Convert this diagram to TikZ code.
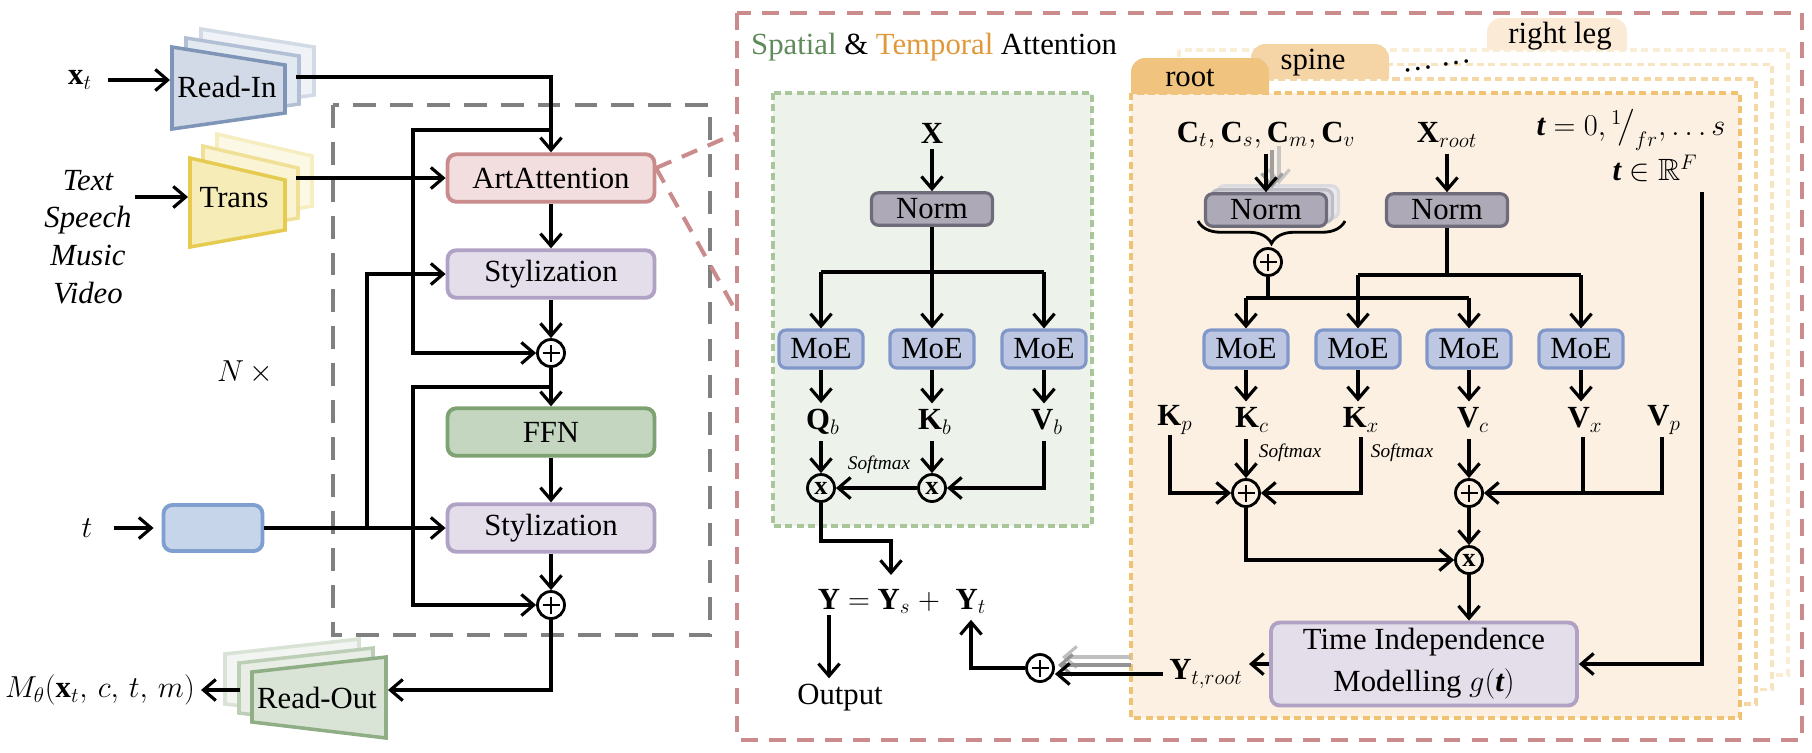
\documentclass[tikz,border=0pt]{standalone}
\usepackage{amsmath,amssymb}
\usepackage{fontspec}
\setmainfont{Liberation Serif}
\usepackage{tikz}
\usetikzlibrary{calc}
\usetikzlibrary{positioning}
\usetikzlibrary{arrows.meta}
\usetikzlibrary{decorations.pathreplacing}

\definecolor{artfill}{HTML}{F2DEDE}
\definecolor{artline}{HTML}{C98B8B}
\definecolor{styfill}{HTML}{E4DEEA}
\definecolor{styline}{HTML}{B0A2C4}
\definecolor{ffnfill}{HTML}{C4D5C0}
\definecolor{ffnline}{HTML}{7EA271}
\definecolor{tfill}{HTML}{C6D5EA}
\definecolor{tline}{HTML}{7E9FD0}
\definecolor{readinfill}{HTML}{D1DAE6}
\definecolor{readinline}{HTML}{7F95B8}
\definecolor{transfill}{HTML}{F6ECB8}
\definecolor{transline}{HTML}{E5CB4F}
\definecolor{readoutfill}{HTML}{D9E3D6}
\definecolor{readoutline}{HTML}{90AE86}
\definecolor{greenfill}{HTML}{EDF2EA}
\definecolor{greenline}{HTML}{A9C59A}
\definecolor{normfill}{HTML}{ADA9B6}
\definecolor{normline}{HTML}{6E6B7B}
\definecolor{moefill}{HTML}{BDC7E1}
\definecolor{moeline}{HTML}{8297C9}
\definecolor{rootfill}{HTML}{FBF0E1}
\definecolor{rootline}{HTML}{F0C274}
\definecolor{roottab}{HTML}{F0C37F}
\definecolor{spinetab}{HTML}{F5D5A6}
\definecolor{legtab}{HTML}{FBEBD6}
\definecolor{spatialc}{HTML}{5F8A5A}
\definecolor{temporalc}{HTML}{E0993A}

\newcommand{\tb}{\text{\bfseries\itshape t}}

\begin{document}
\begin{tikzpicture}[x=0.02cm, y=-0.02cm, font=\rmfamily\fontsize{17.5}{21}\selectfont]

	\useasboundingbox (0,0) rectangle (1812,752);

	\tikzset{
		flow/.style={-{Straight Barb[length=7pt,width=12pt]}, line width=1.8pt},
		wire/.style={line width=1.8pt},
		blk/.style={draw, rounded corners=5pt, line width=2.2pt, inner sep=0pt,
			minimum width=4.14cm, minimum height=0.95cm},
		normbox/.style={draw=normline, fill=normfill, rounded corners=4pt, line width=1.8pt,
			minimum width=2.42cm, minimum height=0.65cm, inner sep=0pt},
		moebox/.style={draw=moeline, fill=moefill, rounded corners=4pt, line width=1.8pt,
			minimum width=1.68cm, minimum height=0.76cm, inner sep=0pt},
		addop/.style={circle, draw, line width=1.6pt, minimum size=0.54cm, inner sep=0pt,
			path picture={\draw[line width=1.6pt]
				([xshift=-0.17cm]path picture bounding box.center) -- ([xshift=0.17cm]path picture bounding box.center)
				([yshift=-0.17cm]path picture bounding box.center) -- ([yshift=0.17cm]path picture bounding box.center);}},
		mulop/.style={circle, draw, line width=1.6pt, minimum size=0.54cm, inner sep=0pt,
			font=\fontsize{15}{15}\selectfont\bfseries},
		softmax/.style={font=\fontsize{11}{12}\selectfont\itshape},
		ghost/.style={-{Straight Barb[length=7pt,width=12pt]}, line width=1.8pt}
	}

	% --- left: transformer block ---
	\draw[gray, line width=2.3pt, dash pattern=on 13pt off 8pt] (333,105) rectangle (710,635);

	% Read-In / Trans / Read-Out stacks
	\foreach \dx/\dy/\pc in {29/-18/35, 14/-9/60, 0/0/100}
		\filldraw[line width=2pt, draw=readinline!\pc, fill=readinfill!\pc]
			(172+\dx,47+\dy) -- (285+\dx,65+\dy) -- (285+\dx,113+\dy) -- (172+\dx,129+\dy) -- cycle;
	\foreach \dx/\dy/\pc in {27/-24/35, 13/-12/60, 0/0/100}
		\filldraw[line width=2pt, draw=transline!\pc, fill=transfill!\pc]
			(190+\dx,158+\dy) -- (285+\dx,180+\dy) -- (285+\dx,230+\dy) -- (190+\dx,247+\dy) -- cycle;
	\foreach \dx/\dy/\pc in {-27/-18/35, -13/-9/60, 0/0/100}
		\filldraw[line width=2pt, draw=readoutline!\pc, fill=readoutfill!\pc]
			(252+\dx,672+\dy) -- (386+\dx,657+\dy) -- (386+\dx,738+\dy) -- (252+\dx,722+\dy) -- cycle;

	\node (readin) at (227,87) {Read-In};
	\node (trans) at (234,198) {Trans};
	\node (readout) at (317,698) {Read-Out};
	\coordinate (rinin) at (170,80);
	\coordinate (rinout) at (296,77);
	\coordinate (trin) at (188,197);
	\coordinate (trout) at (296,178);
	\coordinate (roin) at (388,690);
	\coordinate (roout) at (240,690);

	\node (xt) at (80,80) {$\mathbf{x}_t$};
	\node[align=center, font=\rmfamily\fontsize{17.5}{21.5}\selectfont\itshape] (modal) at (88,237) {Text\\Speech\\Music\\Video};
	\node (tlab) at (87,528) {$t$};
	\node (nx) at (245,372) {$N\,\times$};
	\node (mth) at (100,690) {$M_\theta(\mathbf{x}_t,\, c,\, t,\, m)$};

	\node[blk, draw=artline, fill=artfill] (art) at (551,178) {ArtAttention};
	\node[blk, draw=styline, fill=styfill] (sty1) at (551,274) {Stylization};
	\node[addop] (add1) at (551,353) {};
	\node[blk, draw=ffnline, fill=ffnfill] (ffn) at (551,432) {FFN};
	\node[blk, draw=styline, fill=styfill] (sty2) at (551,528) {Stylization};
	\node[addop] (add2) at (551,605) {};
	\node[blk, draw=tline, fill=tfill, minimum width=1.98cm, minimum height=0.92cm] (tbox) at (213,528) {};

	\draw[flow] ([xshift=0.2cm]xt.east) -- (rinin);
	\draw[flow] (135,197) -- (trin);
	\draw[flow] ([xshift=0.3cm]tlab.east) -- ([xshift=-0.16cm]tbox.west);
	\draw[flow] (rinout) -| (art.north);
	\draw[flow] (trout) -- (art.west);
	\draw[flow] (art) -- (sty1);
	\draw[flow] (sty1) -- (add1);
	\draw[flow] (add1) -- (ffn);
	\draw[flow] (ffn) -- (sty2);
	\draw[flow] (sty2) -- (add2);
	% residuals
	\draw[flow] (551,130) -- (413,130) |- (add1.west);
	\draw[flow] (551,387) -- (413,387) |- (add2.west);
	% timestep
	\draw[flow] (tbox.east) -- (sty2.west);
	\draw[flow] (367,528) |- (sty1.west);
	\draw[flow] (add2.south) |- (roin);
	\draw[flow] (roout) -- (mth.east);

	% zoom lines
	\coordinate (zoomfrom) at (656,168);
	\draw[artline, line width=2.3pt, dash pattern=on 9.5pt off 6.5pt] (zoomfrom) -- (737,133);
	\draw[artline, line width=2.3pt, dash pattern=on 9.5pt off 6.5pt] (zoomfrom) -- (737,313);

	% --- right: spatial & temporal attention ---
	\draw[artline, line width=2.3pt, dash pattern=on 9.5pt off 6.5pt] (737,13) rectangle (1802,740);
	\node[anchor=west] (title) at (745,47) {\textcolor{spatialc}{Spatial} \& \textcolor{temporalc}{Temporal} Attention};

	% spatial branch
	\filldraw[draw=greenline, fill=greenfill, line width=2pt, dash pattern=on 4pt off 2.5pt] (773,93) rectangle (1092,526);
	\node (xin) at (932,133) {$\mathbf{X}$};
	\node[normbox] (norm1) at (932,209) {Norm};
	\node[moebox] (moe1) at (821,349) {MoE};
	\node[moebox] (moe2) at (932,349) {MoE};
	\node[moebox] (moe3) at (1044,349) {MoE};
	\node (qb) at (823,422) {$\mathbf{Q}_b$};
	\node (kb) at (935,422) {$\mathbf{K}_b$};
	\node (vb) at (1047,422) {$\mathbf{V}_b$};
	\node[mulop] (mul1) at (821,488) {x};
	\node[mulop] (mul2) at (932,488) {x};
	\node[softmax] (sm1) at (879,465) {Softmax};

	\draw[flow] (xin) -- (norm1);
	\draw[wire] (norm1.south) -- (932,272);
	\draw[flow] (821,272) -- (moe1.north);
	\draw[flow] (1044,272) -- (moe3.north);
	\draw[wire] (821,272) -- (1044,272);
	\draw[flow] (norm1.south) -- (moe2.north);
	\draw[flow] (moe1.south) -- (moe1.south |- qb.north);
	\draw[flow] (moe2.south) -- (moe2.south |- kb.north);
	\draw[flow] (moe3.south) -- (moe3.south |- vb.north);
	\draw[flow] (mul1 |- qb.south) -- (mul1);
	\draw[flow] (mul2 |- kb.south) -- (mul2);
	\draw[flow] (moe3 |- vb.south) |- (mul2);
	\draw[flow] (mul2) -- (mul1);

	% output
	\node[anchor=base] (yy) at (829,609) {$\mathbf{Y}$};
	\node[anchor=base] (eqs) at (859,609) {$=$};
	\node[anchor=base] (ys) at (894,609) {$\mathbf{Y}_s$};
	\node[anchor=base] (pls) at (929,609) {$+$};
	\node[anchor=base] (yt) at (971,609) {$\mathbf{Y}_t$};
	\node (out) at (840,698) {Output};
	\draw[flow] (mul1.south) -- (821,541) -| (891,575);
	\draw[flow] (yy.south) -- (yy.south |- out.north);

	% stacked joint boxes, back to front
	\foreach \k/\pc in {3/30, 2/45} {
		\filldraw[draw=rootline!\pc, fill=white, line width=2pt, dash pattern=on 4pt off 2.5pt]
			(1131+16*\k,93-14.3*\k) rectangle (1740+16*\k,718-14.3*\k);
	}
	\fill[legtab] (1487,50) [rounded corners=8pt]-- (1487,18) -- (1627,18) [sharp corners]-- (1627,50) -- cycle;
	\node (legt) at (1560,36) {right leg};
	\filldraw[draw=rootline!65, fill=white, line width=2pt, dash pattern=on 4pt off 2.5pt]
		(1147,79) rectangle (1756,704);
	\fill[spinetab] (1251,79) [rounded corners=8pt]-- (1251,44) -- (1389,44) [sharp corners]-- (1389,79) -- cycle;
	\node (spinet) at (1313,63) {spine};
	\node[rotate=8] (dots) at (1437,66) {\dots\ \dots};
	\filldraw[draw=rootline, fill=rootfill, line width=2pt, dash pattern=on 4pt off 2.5pt]
		(1131,93) rectangle (1740,718);
	\fill[roottab] (1131,94) [rounded corners=8pt]-- (1131,58) -- (1269,58) [sharp corners]-- (1269,94) -- cycle;
	\node (roott) at (1190,78) {root};

	% temporal branch
	\node (cin) at (1266,135) {$\mathbf{C}_t, \mathbf{C}_s, \mathbf{C}_m, \mathbf{C}_v$};
	\node[normbox, draw=normline!25, fill=normfill!25] (ghost2) at (1278,202) {};
	\node[normbox, draw=normline!45, fill=normfill!45] (ghost1) at (1272,206) {};
	\node[normbox] (normc) at (1266,210) {Norm};
	\draw[ghost, gray!45] (1279,146) -- (ghost2.north -| 1279,0);
	\draw[ghost, gray!75] (1272,150) -- (ghost1.north -| 1272,0);
	\draw[flow] (cin.south) -- (normc.north);
	\draw[line width=1.6pt, decorate, decoration={brace, mirror, amplitude=0.45cm}] (1198,221) -- (1345,221);
	\node[addop] (addc) at (1268,262) {};
	\node (xroot) at (1447,135) {$\mathbf{X}_{root}$};
	\node[normbox] (normx) at (1447,210) {Norm};
	\node (tdef) at (1631,130) {$\tb = 0, {}^{1}\!\big/_{fr}, \dots s$};
	\node (tin) at (1655,168) {$\tb \in \mathbb{R}^F$};

	\node[moebox] (moe4) at (1246,349) {MoE};
	\node[moebox] (moe5) at (1358,349) {MoE};
	\node[moebox] (moe6) at (1469,349) {MoE};
	\node[moebox] (moe7) at (1581,349) {MoE};

	\draw[flow] (xroot) -- (normx);
	\draw[wire] (addc.south) -- (1268,298);
	\draw[flow] (1246,298) -- (moe4.north);
	\draw[flow] (1469,298) -- (moe6.north);
	\draw[wire] (1246,298) -- (1469,298);
	\draw[wire] (normx.south) -- (1447,275);
	\draw[flow] (1358,275) -- (moe5.north);
	\draw[flow] (1581,275) -- (moe7.north);
	\draw[wire] (1358,275) -- (1581,275);

	\node (kp) at (1175,420) {$\mathbf{K}_p$};
	\node (kc) at (1252,420) {$\mathbf{K}_c$};
	\node (kx) at (1361,420) {$\mathbf{K}_x$};
	\node (vc) at (1473,420) {$\mathbf{V}_c$};
	\node (vx) at (1585,420) {$\mathbf{V}_x$};
	\node (vp) at (1664,420) {$\mathbf{V}_p$};
	\node[softmax] (sm2) at (1290,453) {Softmax};
	\node[softmax] (sm3) at (1402,453) {Softmax};
	\node[addop] (adda) at (1246,493) {};
	\node[addop] (addb) at (1469,493) {};
	\node[mulop] (mulr) at (1469,560) {x};
	\node[blk, draw=styline, fill=styfill, align=center, minimum width=6.12cm, minimum height=1.66cm,
		font=\rmfamily\fontsize{17.5}{24}\selectfont] (timebox) at (1424,664) {Time Independence\\Modelling $g(\tb)$};

	\draw[flow] (moe4.south) -- (moe4.south |- kc.north);
	\draw[flow] (moe5.south) -- (moe5.south |- kx.north);
	\draw[flow] (moe6.south) -- (moe6.south |- vc.north);
	\draw[flow] (moe7.south) -- (moe7.south |- vx.north);
	\draw[flow] (adda |- kc.south) -- (adda);
	\draw[flow] (1170,435) |- (adda.west);
	\draw[flow] (1361,437) |- (adda.east);
	\draw[flow] (addb |- vc.south) -- (addb);
	\draw[flow] (1662,437) |- (addb.east);
	\draw[wire] (1583,437) -- (1583,493);
	\draw[flow] (addb) -- (mulr);
	\draw[flow] (adda) |- (mulr);
	\draw[flow] (mulr) -- (mulr |- timebox.north);
	\draw[flow] (1702,192) |- (timebox.east);

	% back to the sum
	\node (ytroot) at (1206,674) {$\mathbf{Y}_{t,root}$};
	\node[addop] (addy) at (1040,668) {};
	\draw[flow] (timebox.west) -- (timebox.west -| ytroot.east);
	\draw[ghost, gray!50] (1131,657) -- (1062,657);
	\draw[ghost, gray!85] (1131,665) -- (1058,665);
	\draw[flow] (ytroot.west) -- (ytroot.west -| addy.east);
	\draw[flow] (addy.west) -| (yt.south);

\end{tikzpicture}
\end{document}
